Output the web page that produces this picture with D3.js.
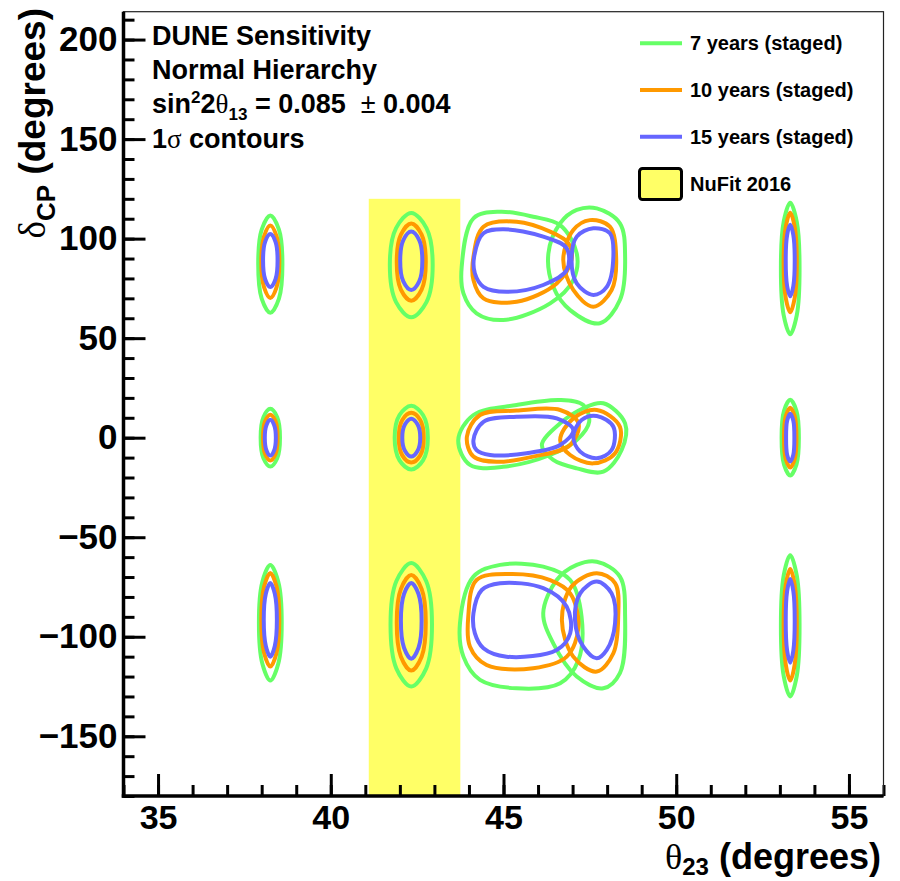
<!DOCTYPE html>
<html>
<head>
<meta charset="utf-8">
<script src="https://cdn.jsdelivr.net/npm/d3@7"></script>
<style>
  body { margin: 0; background: #fff; }
  svg { display: block; }
  text { font-family: "Liberation Sans", Arial, Helvetica, sans-serif; font-weight: bold; fill: #000; white-space: pre; }
  .greek { font-family: "Liberation Serif", "Times New Roman", serif; font-weight: normal; }
</style>
</head>
<body>
<svg id="chart" width="900" height="881"></svg>
<script>
// ---- axis setup ----
const thetaDomain = [34, 56];
const deltaDomain = [-180, 214];
const thetaMajorTicks = [35, 40, 45, 50, 55];
const deltaMajorTicks = [-150, -100, -50, 0, 50, 100, 150, 200];

// ---- NuFit 2016 allowed band (theta23 range, delta_CP upper edge) ----
const nufitTheta = [41.1, 43.75];
const nufitDeltaTop = 120;

// ---- 1 sigma contours, each a closed loop of [theta23, deltaCP] points ----
const contours7yr = [
  [[38.25,111.6],[38.50,104.5],[38.60,87.2],[38.50,69.9],[38.25,62.8],[38.00,69.9],[37.90,87.2],[38.00,104.5]],
  [[38.25,14.5],[38.45,10.3],[38.53,0],[38.45,-10.3],[38.25,-14.5],[38.05,-10.3],[37.97,0],[38.05,10.3]],
  [[38.25,-64],[38.48,-72.4],[38.58,-93],[38.48,-113.6],[38.25,-122],[38.02,-113.6],[37.92,-93],[38.02,-72.4]],
  [[42.33,112.9],[42.77,105.3],[42.95,86.7],[42.77,68.1],[42.33,60.5],[41.89,68.1],[41.71,86.7],[41.89,105.3]],
  [[42.33,16],[42.67,11.4],[42.81,0],[42.67,-11.4],[42.33,-16],[41.99,-11.4],[41.85,0],[41.99,11.4]],
  [[42.33,-63],[42.76,-72],[42.93,-94],[42.76,-116],[42.33,-125],[41.90,-116],[41.73,-94],[41.90,-72]],
  [[43.79,85.9],[44.13,110.2],[44.90,113.5],[45.86,111.0],[46.64,106.8],[47.12,92.6],[47.02,79.2],[46.35,67.5],[44.99,59.1],[44.22,62.5],[43.84,72.5]],
  [[47.70,115.2],[48.37,107.7],[48.52,90.9],[48.37,69.2],[47.79,57.5],[46.93,64.1],[46.44,75.8],[46.30,92.6],[46.64,107.7],[47.12,114.4]],
  [[43.69,-1.2],[44.13,11.4],[45.38,16.4],[46.64,18.9],[47.31,16.4],[47.48,8.0],[47.12,-1.2],[46.35,-8.7],[44.99,-14.6],[44.03,-13.7]],
  [[46.11,-3.7],[46.64,7.2],[47.31,14.8],[47.89,17.3],[48.52,7.2],[48.42,-6.2],[47.89,-17.1],[47.12,-15.4],[46.44,-11.2]],
  [[43.74,-93.2],[44.13,-69.8],[44.90,-63.9],[46.15,-64.8],[46.93,-71.5],[47.26,-89.9],[47.17,-111.7],[46.64,-123.4],[45.38,-125.9],[44.32,-121.7],[43.84,-110.0]],
  [[47.70,-62.3],[48.37,-69.8],[48.52,-89.9],[48.37,-118.3],[47.89,-125.9],[47.12,-120.0],[46.44,-103.3],[46.15,-88.2],[46.54,-71.5],[47.12,-63.9]],
  [[53.3,118],[53.49,108.4],[53.57,85],[53.49,61.6],[53.3,52],[53.11,61.6],[53.03,85],[53.11,108.4]],
  [[53.3,19],[53.48,13.5],[53.55,0],[53.48,-13.5],[53.3,-19],[53.12,-13.5],[53.05,0],[53.12,13.5]],
  [[53.3,-59],[53.49,-69.3],[53.57,-94.5],[53.49,-119.7],[53.3,-130],[53.11,-119.7],[53.03,-94.5],[53.11,-69.3]]
];

const contours10yr = [
  [[38.25,106.6],[38.43,101.3],[38.51,88.4],[38.43,75.5],[38.25,70.2],[38.07,75.5],[37.99,88.4],[38.07,101.3]],
  [[38.25,11.5],[38.40,8.2],[38.46,0],[38.40,-8.2],[38.25,-11.5],[38.10,-8.2],[38.04,0],[38.10,8.2]],
  [[38.25,-68],[38.43,-74.8],[38.51,-91.5],[38.43,-108.2],[38.25,-115],[38.07,-108.2],[37.99,-91.5],[38.07,-74.8]],
  [[42.33,107.6],[42.63,102],[42.75,88.2],[42.63,74.4],[42.33,68.8],[42.03,74.4],[41.91,88.2],[42.03,102]],
  [[42.33,12.5],[42.59,8.9],[42.69,0],[42.59,-8.9],[42.33,-12.5],[42.07,-8.9],[41.97,0],[42.07,8.9]],
  [[42.33,-69],[42.63,-76],[42.75,-93],[42.63,-110],[42.33,-117],[42.03,-110],[41.91,-93],[42.03,-76]],
  [[44.13,90.9],[44.42,106.0],[45.38,108.5],[46.35,103.5],[46.88,97.6],[46.97,89.3],[46.54,77.5],[45.38,68.3],[44.42,70.0],[44.13,79.2]],
  [[47.50,109.3],[48.08,106.0],[48.26,90.9],[48.13,74.2],[47.60,65.8],[47.02,74.2],[46.73,89.3],[47.02,104.3]],
  [[43.94,0.5],[44.32,11.4],[45.38,13.6],[46.64,13.9],[47.17,7.2],[46.93,-3.7],[45.86,-9.5],[44.80,-12.1],[44.13,-9.5]],
  [[46.64,-1.2],[47.02,9.7],[47.70,13.9],[48.37,5.5],[48.23,-7.8],[47.60,-12.9],[46.93,-8.7]],
  [[43.98,-89.9],[44.22,-71.5],[45.19,-68.5],[46.35,-71.5],[46.93,-78.2],[47.17,-94.9],[46.83,-110.0],[45.86,-115.8],[44.51,-114.2],[44.03,-105.0]],
  [[47.70,-68.1],[48.23,-73.1],[48.32,-89.9],[48.18,-108.3],[47.70,-117.5],[47.02,-110.0],[46.69,-91.6],[46.97,-74.8]],
  [[53.3,113],[53.43,105.8],[53.49,88],[53.43,70.2],[53.3,63],[53.17,70.2],[53.11,88],[53.17,105.8]],
  [[53.3,15],[53.43,10.7],[53.48,0],[53.43,-10.7],[53.3,-15],[53.17,-10.7],[53.12,0],[53.17,10.7]],
  [[53.3,-66],[53.43,-74.1],[53.49,-94],[53.43,-113.9],[53.3,-122],[53.17,-113.9],[53.11,-94],[53.17,-74.1]]
];

const contours15yr = [
  [[38.25,102.3],[38.40,98.4],[38.46,89],[38.40,79.6],[38.25,75.7],[38.10,79.6],[38.04,89],[38.10,98.4]],
  [[38.25,9],[38.36,6.4],[38.41,0],[38.36,-6.4],[38.25,-9],[38.14,-6.4],[38.09,0],[38.14,6.4]],
  [[38.25,-73],[38.38,-78.4],[38.44,-91.5],[38.38,-104.6],[38.25,-110],[38.12,-104.6],[38.06,-91.5],[38.12,-78.4]],
  [[42.33,103.6],[42.56,99.3],[42.65,88.9],[42.56,78.5],[42.33,74.2],[42.10,78.5],[42.01,88.9],[42.10,99.3]],
  [[42.33,9.5],[42.51,6.7],[42.59,0],[42.51,-6.7],[42.33,-9.5],[42.15,-6.7],[42.07,0],[42.15,6.7]],
  [[42.33,-73],[42.54,-78.5],[42.63,-92],[42.54,-105.5],[42.33,-111],[42.12,-105.5],[42.03,-92],[42.12,-78.5]],
  [[44.15,90.9],[44.42,102.7],[44.99,104.7],[46.15,101.0],[46.83,95.1],[46.83,84.2],[46.15,76.7],[45.09,73.3],[44.42,75.8],[44.17,82.6]],
  [[47.60,105.2],[48.08,102.7],[48.18,90.9],[47.99,75.8],[47.60,71.7],[47.12,77.5],[46.97,89.3],[47.12,101.0]],
  [[44.13,-1.2],[44.42,8.0],[45.38,10.5],[46.54,9.7],[47.02,3.9],[46.64,-3.7],[45.67,-7.8],[44.61,-8.7],[44.22,-6.2]],
  [[47.02,0.5],[47.26,8.9],[47.70,10.9],[48.18,5.5],[48.13,-6.2],[47.70,-10.3],[47.22,-7.0]],
  [[44.13,-88.2],[44.37,-76.5],[44.90,-73.1],[46.15,-75.6],[46.83,-84.9],[46.93,-98.2],[46.54,-106.6],[45.09,-110.0],[44.42,-105.8],[44.17,-98.2]],
  [[47.70,-72.3],[48.13,-78.2],[48.23,-93.2],[47.99,-106.6],[47.70,-110.8],[47.31,-105.0],[47.07,-91.6],[47.22,-78.2]],
  [[53.3,107],[53.39,101.8],[53.43,89],[53.39,76.2],[53.3,71],[53.21,76.2],[53.17,89],[53.21,101.8]],
  [[53.3,12],[53.39,8.5],[53.42,0],[53.39,-8.5],[53.3,-12],[53.21,-8.5],[53.18,0],[53.21,8.5]],
  [[53.3,-71],[53.39,-77.1],[53.43,-92],[53.39,-106.9],[53.3,-113],[53.21,-106.9],[53.17,-92],[53.21,-77.1]]
];

const seriesLabels = ["7 years (staged)", "10 years (staged)", "15 years (staged)"];
const seriesColors = ["#66ff66", "#ff9900", "#6666ff"];
const seriesContours = [contours7yr, contours10yr, contours15yr];
const bandLabel = "NuFit 2016";
const bandColor = "#ffff66";

// ---- frame geometry ----
const frame = { left: 123.5, right: 883.5, top: 11.7, bottom: 796 };

const svg = d3.select("#chart");

const x = d3.scaleLinear().domain(thetaDomain).range([frame.left, frame.right]);
const y = d3.scaleLinear().domain(deltaDomain).range([frame.bottom, frame.top]);

// NuFit band
svg.append("rect")
  .attr("x", x(nufitTheta[0]))
  .attr("y", y(nufitDeltaTop))
  .attr("width", x(nufitTheta[1]) - x(nufitTheta[0]))
  .attr("height", y(deltaDomain[0]) - y(nufitDeltaTop))
  .attr("fill", bandColor);

// contours
const loop = d3.line()
  .x(d => x(d[0]))
  .y(d => y(d[1]))
  .curve(d3.curveCatmullRomClosed.alpha(0.5));

seriesContours.forEach((set, i) => {
  svg.append("g")
    .selectAll("path")
    .data(set)
    .join("path")
    .attr("d", loop)
    .attr("fill", "none")
    .attr("stroke", seriesColors[i])
    .attr("stroke-width", 4)
    .attr("stroke-linejoin", "round");
});

// axes: ticks drawn inside the frame
const minorTheta = d3.range(thetaDomain[0], thetaDomain[1] + 1, 1);
const minorDelta = d3.range(-180, 214, 10);

function styleAxis(g) {
  g.select(".domain").remove();
  g.selectAll(".tick line").attr("stroke", "#000").attr("stroke-width", 3);
  g.selectAll(".tick text")
    .style("font-family", "'Liberation Sans', Arial, sans-serif")
    .style("font-weight", "bold")
    .style("font-size", "34px")
    .attr("fill", "#000");
}

svg.append("g")
  .attr("transform", `translate(0,${frame.bottom})`)
  .call(d3.axisBottom(x).tickValues(minorTheta).tickSize(-11).tickFormat(""))
  .call(styleAxis);
svg.append("g")
  .attr("transform", `translate(0,${frame.bottom})`)
  .call(d3.axisBottom(x).tickValues(thetaMajorTicks).tickSize(-22).tickPadding(9).tickFormat(d3.format("d")))
  .call(styleAxis);

svg.append("g")
  .attr("transform", `translate(${frame.left},0)`)
  .call(d3.axisLeft(y).tickValues(minorDelta).tickSize(-11).tickFormat(""))
  .call(styleAxis);
svg.append("g")
  .attr("transform", `translate(${frame.left},0)`)
  .call(d3.axisLeft(y).tickValues(deltaMajorTicks).tickSize(-22).tickPadding(6).tickFormat(d3.format("d")))
  .call(styleAxis)
  .call(g => g.selectAll(".tick text").style("font-size", "35px"));

// frame: thin top/right, thick left/bottom
svg.append("rect")
  .attr("x", frame.left).attr("y", frame.top)
  .attr("width", frame.right - frame.left).attr("height", frame.bottom - frame.top)
  .attr("fill", "none").attr("stroke", "#222").attr("stroke-width", 1.2);
svg.append("line")
  .attr("x1", frame.left).attr("x2", frame.left)
  .attr("y1", frame.top).attr("y2", frame.bottom + 1.75)
  .attr("stroke", "#000").attr("stroke-width", 3.5);
svg.append("line")
  .attr("x1", frame.left - 1.75).attr("x2", frame.right)
  .attr("y1", frame.bottom).attr("y2", frame.bottom)
  .attr("stroke", "#000").attr("stroke-width", 3.5);

// axis titles
const xTitle = svg.append("text")
  .attr("x", 881).attr("y", 869)
  .attr("text-anchor", "end")
  .style("font-size", "36px");
xTitle.append("tspan").attr("class", "greek").text("θ");
xTitle.append("tspan").attr("dy", 6).style("font-size", "24px").text("23");
xTitle.append("tspan").attr("dy", -6).text(" (degrees)");

const yTitle = svg.append("text")
  .attr("transform", "translate(45,8) rotate(-90)")
  .attr("text-anchor", "end")
  .style("font-size", "37px");
yTitle.append("tspan").attr("class", "greek").text("δ");
yTitle.append("tspan").attr("dy", 10).style("font-size", "26px").text("CP");
yTitle.append("tspan").attr("dy", -10).text(" (degrees)");

// info block
const info = svg.append("g").style("font-size", "27px");
info.append("text").attr("x", 152).attr("y", 45).text("DUNE Sensitivity");
info.append("text").attr("x", 152).attr("y", 79).text("Normal Hierarchy");
const l3 = info.append("text").attr("x", 152).attr("y", 113);
l3.append("tspan").text("sin");
l3.append("tspan").attr("dy", -10).style("font-size", "17px").text("2");
l3.append("tspan").attr("dy", 10).text("2");
l3.append("tspan").attr("class", "greek").text("θ");
l3.append("tspan").attr("dy", 7).style("font-size", "17px").text("13");
l3.append("tspan").attr("dy", -7).text(" = 0.085  ");
l3.append("tspan").style("font-weight", "normal").text("±");
l3.append("tspan").text(" 0.004");
const l4 = info.append("text").attr("x", 152).attr("y", 148);
l4.append("tspan").text("1");
l4.append("tspan").attr("class", "greek").text("σ");
l4.append("tspan").text(" contours");

// legend
const legendYs = [43.3, 90, 136.7];
const legend = svg.append("g").style("font-size", "20px");
seriesLabels.forEach((lab, i) => {
  legend.append("line")
    .attr("x1", 640).attr("x2", 682)
    .attr("y1", legendYs[i]).attr("y2", legendYs[i])
    .attr("stroke", seriesColors[i]).attr("stroke-width", 4);
  legend.append("text")
    .attr("x", 690).attr("y", legendYs[i]).attr("dy", "0.35em")
    .text(lab);
});
legend.append("rect")
  .attr("x", 639.5).attr("y", 168.5).attr("width", 42).attr("height", 31)
  .attr("rx", 3)
  .attr("fill", bandColor).attr("stroke", "#000").attr("stroke-width", 3);
legend.append("text")
  .attr("x", 690).attr("y", 184).attr("dy", "0.35em")
  .text(bandLabel);
</script>
</body>
</html>
